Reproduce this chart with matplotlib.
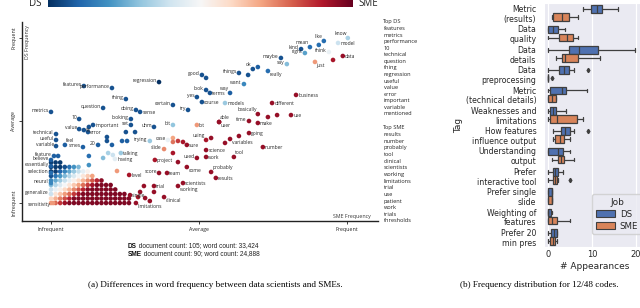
import numpy as np
import matplotlib.pyplot as plt
import seaborn as sns
from matplotlib.patches import Patch

# ---------------- panel (a): word frequency, DS vs SME ----------------
# frequencies are rank scaled: 0 = infrequent, 0.5 = average, 1 = frequent
# lean: 0 = used mostly by data scientists, 1 = used mostly by SMEs
words = ["regression", "features", "performance", "thing", "question", "metrics",
         "doing", "sense", "10", "looking", "value", "%", "important", "set", "uhm",
         "bit", "lot", "error", "technical", "useful", "variable", "feel", "smes", "20",
         "trying", "case", "talking", "having", "level", "single", "limitations",
         "slide", "project", "score", "team", "trial", "clinical", "working",
         "scientists", "come", "used", "work", "science", "sure", "using", "variables",
         "number", "tool", "probably", "results", "going", "able", "user", "time",
         "basically", "make", "different", "use", "business", "certain", "try", "yes",
         "course", "models", "look", "terms", "good", "way", "want", "things", "ok",
         "maybe", "say", "really", "right", "kind", "mean", "like", "know", "model",
         "think", "data", "just", "sensitivity", "generalize", "neural", "selection",
         "essentially", "believe", "feature"]
sme_freq = [.365, .111, .206, .253, .176, .000, .287, .301, .095, .270, .095, .111, .142, .270, .348,
            .412, .493, .125, .017, .017, .017, .047, .108, .159, .334, .395, .236, .216, .264, .267,
            .287, .382, .351, .365, .392, .348, .382, .429, .446, .459, .493, .524, .524, .459, .524,
            .605, .716, .618, .541, .557, .669, .568, .568, .669, .699, .699, .747, .811, .828, .412,
            .463, .493, .510, .588, .524, .537, .510, .605, .652, .635, .682, .777, .797, .733, .858,
            .845, .875, .922, 1.003, .970, .939, .986, .892, .007, .000, .000, .000, .000, .000, .010]
ds_freq = [.733, .709, .697, .630, .576, .552, .564, .552, .509, .509, .448, .442, .473, .473, .461,
           .473, .473, .430, .418, .382, .345, .352, .339, .352, .376, .382, .303, .267, .170, .048,
           .000, .327, .261, .182, .182, .103, .036, .103, .121, .218, .273, .279, .321, .352, .382,
           .388, .339, .279, .188, .152, .424, .491, .491, .497, .539, .485, .606, .533, .655, .594,
           .564, .642, .612, .606, .685, .667, .776, .667, .721, .788, .812, .879, .842, .800, .909,
           .933, .945, .982, 1.000, .970, .915, .891, .855, .000, .055, .121, .182, .224, .261, .285]
lean = [.00, .10, .10, .10, .10, .10, .10, .10, .10, .10, .10, .10, .10, .10, .10,
        .32, .70, .10, .10, .10, .10, .12, .12, .12, .33, .47, .33, .45, .88, .90,
        .90, .72, .88, .90, .90, .90, .90, .90, .90, .90, .90, .90, .90, .90, .88,
        .90, .90, .90, .90, .90, .90, .90, .90, .90, .90, .90, .90, .90, .90, .10,
        .10, .10, .10, .33, .10, .10, .10, .12, .20, .10, .10, .10, .30, .15, .25,
        .10, .15, .15, .35, .40, .47, .90, .70, .70, .40, .20, .15, .12, .12, .12]

# unlabelled words
other_sme = [.128, .189, .189, .206, .240, .257, .253, .284, .024, .128, .128, .176, .193, .209, .223,
             .412, .412, .429, .446, .541, .588, .635, .733, .764, .524, .666, .699, .905, .953,
             .412, .429, .348, .314, .301, .318, .334, .294]
other_ds = [.461, .400, .376, .352, .376, .376, .430, .430, .285, .285, .230, .273, .303, .291, .194,
            .394, .370, .376, .370, .394, .364, .406, .521, .533, .758, .776, .824, .958, .867,
            .303, .248, .067, .103, .067, .030, .012, .036]
other_lean = [.10, .10, .10, .12, .12, .12, .10, .10, .12, .15, .22, .30, .35, .40, .70,
              .68, .75, .82, .88, .90, .90, .90, .90, .90, .10, .10, .12, .15, .88,
              .88, .90, .90, .90, .90, .90, .90, .88]

# rare words pile up on a lattice of low counts: rows filled per SME-count column
lattice_rows = [10, 10, 10, 9, 9, 9, 9, 8, 8, 7, 6, 6, 5, 5, 4, 3, 3, 2]

top_ds = ["features", "metrics", "performance", "10", "technical", "question", "thing",
          "regression", "useful", "value", "error", "important", "variable", "mentioned"]
top_sme = ["results", "number", "probably", "tool", "clinical", "scientists", "working",
           "limitations", "trial", "use", "patient", "work", "trials", "thresholds"]

# ---------------- panel (b): code frequency boxplots ----------------
tags = ["Metric\n(results)", "Data\nquality", "Data\ndetails", "Data\npreprocessing",
        "Metric\n(technical details)", "Weaknesses and\nlimitations", "How features\ninfluence output",
        "Understanding\noutput", "Prefer\ninteractive tool", "Prefer single\nslide",
        "Weighting of\nfeatures", "Prefer 20\nmin pres"]
# (whisker low, q1, median, q3, whisker high)
ds_box = [(7.9, 9.8, 11.1, 12.3, 15.9), (0, 0, 1.1, 2.3, 3.9), (0, 4.8, 7.0, 11.4, 19.7),
          (0, 2.4, 3.6, 4.8, 6.0), (0, 0.5, 3.2, 4.0, 8.9), (0, 0.4, 1.1, 1.9, 4.0),
          (1.1, 3.0, 3.8, 4.9, 6.0), (0, 0, 2.3, 3.4, 4.9), (0, 1.1, 1.7, 2.3, 3.3),
          (0, 0, 1, 1, 1), (0, 0, 0, 0.75, 1), (0, 0.75, 1.4, 2.0, 2.0)]
ds_out = [[], [], [], [9], [], [], [9], [], [], [], [], []]
sme_box = [(1.0, 1.1, 3.1, 4.8, 6.8), (0, 2.4, 4.3, 5.6, 6.8), (1.9, 3.2, 3.8, 6.8, 11.9),
           (0, 0, 0, 0, 0), (0, 0, 0.9, 1.9, 1.9), (0, 0.5, 2.0, 6.6, 7.9),
           (1.1, 1.5, 2.7, 3.7, 4.9), (1.0, 2.2, 3.0, 3.7, 5.8), (0, 1.1, 1.5, 2.0, 2.3),
           (0, 0, 1, 1, 1), (0, 0, 1, 2, 5), (0, 0.4, 1.1, 1.7, 2.0)]
sme_out = [[], [], [], [1], [], [], [], [], [5], [], [], []]

W, H = 640, 308
fig = plt.figure(figsize=(W / 100, H / 100), dpi=100)


def fx(px):
    return px / W


def fy(py):
    return 1 - py / H


LBL = "Open Sans"
cmap = "RdBu_r"
VMIN, VMAX = 0.04, 0.96

ax = fig.add_axes([fx(22), fy(221), (378 - 22) / W, (221 - 22) / H])
ax.set_xlim(-0.098, 1.105)
ax.set_ylim(-0.109, 1.097)
for s in ["top", "right"]:
    ax.spines[s].set_visible(False)
for s in ["left", "bottom"]:
    ax.spines[s].set_linewidth(1.0)
    ax.spines[s].set_color("#222222")
ax.set_xticks([0, 0.5, 1])
ax.set_xticklabels(["Infrequent", "Average", "Frequent"], family=LBL, fontsize=3.8, color="#333333")
ax.set_yticks([0, 0.5, 1])
ax.set_yticklabels(["Infrequent", "Average", "Frequent"], family=LBL, fontsize=3.8, color="#333333",
                   rotation=90, va="center")
ax.tick_params(length=2, width=0.6, pad=2, colors="#222222")

# lattice of rare words
lx, ly, lc = [], [], []
for i, n in enumerate(lattice_rows):
    for j in range(n):
        lx.append(i * 0.0155)
        ly.append(j * 0.0273)
        lc.append(np.clip(0.7 + 0.065 * i - 0.1 * j, 0.06, 0.93))
ax.scatter(lx, ly, c=lc, cmap=cmap, vmin=VMIN, vmax=VMAX, s=11, linewidths=0, zorder=2)
ax.scatter(other_sme, other_ds, c=other_lean, cmap=cmap, vmin=VMIN, vmax=VMAX, s=11, linewidths=0,
           zorder=3)
ax.scatter(sme_freq, ds_freq, c=lean, cmap=cmap, vmin=VMIN, vmax=VMAX, s=11, linewidths=0, zorder=4)

place = {"sense": "r", "%": "r", "important": "r", "lot": "r", "error": "r", "feel": "ur",
         "talking": "r", "having": "r", "level": "r", "single": "r", "limitations": "dr",
         "project": "r", "team": "r", "trial": "r", "clinical": "dr", "working": "dr",
         "scientists": "r", "come": "dr", "work": "r", "science": "r", "sure": "r", "using": "ul",
         "variables": "dr", "number": "r", "tool": "ur", "probably": "ur", "results": "r",
         "going": "r", "able": "ur", "user": "dr", "make": "r", "different": "r", "use": "r",
         "business": "r", "course": "r", "models": "r", "terms": "r", "way": "ul", "ok": "ul",
         "really": "dr", "mean": "ul", "like": "ul", "know": "ul", "model": "r", "data": "r",
         "just": "dr", "basically": "ul", "sensitivity": "dl"}
offs = {"l": (-1.6, 1.2, "right"), "r": (1.6, -0.5, "left"), "ul": (-0.8, 3.4, "right"),
        "ur": (0.8, 3.4, "left"), "dr": (1.2, -2.8, "left"), "dl": (-1.4, -1.0, "right")}
for w, x, y in zip(words, sme_freq, ds_freq):
    dx, dy, ha = offs[place.get(w, "l")]
    ax.annotate(w, (x, y), xytext=(dx, dy), textcoords="offset points", ha=ha, va="center",
                family=LBL, fontsize=3.6, color="#2a2a2a", zorder=5, annotation_clip=False)

ax.text(1.017, -0.079, "SME Frequency", ha="center", va="center", family=LBL, fontsize=3.8,
        color="#333333")
ax.text(-0.081, 0.975, "DS Frequency", ha="center", va="center", rotation=90, family=LBL,
        fontsize=3.8, color="#333333")

# colour scale on top
cax = fig.add_axes([fx(48), fy(7), (353 - 48) / W, 7 / H])
cax.imshow(np.linspace(0, 1, 256)[None, :], aspect="auto", cmap=cmap)
cax.axis("off")
fig.text(fx(35), fy(4), "DS", ha="center", va="center", family=LBL, fontsize=7, color="#222222")
fig.text(fx(368), fy(4), "SME", ha="center", va="center", family=LBL, fontsize=7, color="#222222")

# top term lists
fig.text(fx(382), fy(22), "Top DS", ha="left", va="center", family=LBL, fontsize=4.1, color="#222222")
for k, w in enumerate(top_ds):
    fig.text(fx(383.5), fy(22 + 6.57 * (k + 1)), w, ha="left", va="center", family=LBL,
             fontsize=4.1, color="#222222")
fig.text(fx(382), fy(128), "Top SME", ha="left", va="center", family=LBL, fontsize=4.1, color="#222222")
for k, w in enumerate(top_sme):
    fig.text(fx(383.5), fy(128 + 6.64 * (k + 1)), w, ha="left", va="center", family=LBL,
             fontsize=4.1, color="#222222")

# document counts
fig.canvas.draw()
for who, rest, yy in [("DS", " document count: 105; word count: 33,424", 246),
                      ("SME", " document count: 90; word count: 24,888", 254)]:
    t = fig.text(fx(128), fy(yy), who, ha="left", va="center", family="Liberation Sans",
                 fontsize=4.7, weight="bold", color="#111111")
    bb = t.get_window_extent(renderer=fig.canvas.get_renderer())
    fig.text(bb.x1 / W, fy(yy), rest, ha="left", va="center", family="Liberation Sans",
             fontsize=4.7, color="#222222")

fig.text(fx(215), fy(285), "(a) Differences in word frequency between data scientists and SMEs.",
         ha="center", va="center", family="Liberation Serif", fontsize=6.6)
fig.text(fx(539), fy(285), "(b) Frequency distribution for 12/48 codes.",
         ha="center", va="center", family="Liberation Serif", fontsize=6.6)

# ---------------- panel (b) ----------------
colors = ["#4f71b0", "#d8845a"]
edge = "#3f3f3f"
with sns.axes_style("darkgrid"):
    bx = fig.add_axes([fx(544), fy(247), (646 - 544) / W, (247 - 3) / H])
    for boxes, outs, shift, col in [(ds_box, ds_out, -0.2, colors[0]), (sme_box, sme_out, 0.2, colors[1])]:
        stats = [dict(whislo=b[0], q1=b[1], med=b[2], q3=b[3], whishi=b[4], fliers=o)
                 for b, o in zip(boxes, outs)]
        bx.bxp(stats, positions=np.arange(len(tags)) + shift, widths=0.38, capwidths=0.19,
               orientation="horizontal", patch_artist=True, manage_ticks=False,
               boxprops=dict(facecolor=col, edgecolor=edge, linewidth=0.9),
               medianprops=dict(color=edge, linewidth=0.9),
               whiskerprops=dict(color=edge, linewidth=0.9),
               capprops=dict(color=edge, linewidth=0.9),
               flierprops=dict(marker="d", markerfacecolor=edge, markeredgecolor=edge, markersize=2.2))
    bx.set_ylim(len(tags) - 0.5, -0.5)
    bx.set_xlim(-0.91, 22.27)
    bx.set_yticks(range(len(tags)))
    bx.set_yticklabels(tags, fontsize=5.6, linespacing=1.1, color="#262626")
    bx.set_xticks([0, 10, 20])
    bx.set_xticklabels(["0", "10", "20"], fontsize=6, color="#262626")
    bx.tick_params(axis="y", length=0, pad=5.5)
    bx.tick_params(axis="x", length=0, pad=2)
    bx.yaxis.grid(False)
    bx.xaxis.grid(True, color="white", linewidth=0.9)
    bx.set_axisbelow(True)
    bx.set_xlabel("# Appearances", fontsize=6.5, color="#262626", labelpad=2)
    bx.set_ylabel("Tag", fontsize=6.5, color="#262626", labelpad=2)
    handles = [Patch(facecolor=colors[0], edgecolor=edge, linewidth=0.8, label="DS"),
               Patch(facecolor=colors[1], edgecolor=edge, linewidth=0.8, label="SME")]
    bx.legend(handles=handles, title="Job", loc="lower right", bbox_to_anchor=(1.0, 0.035),
              fontsize=6.2, title_fontsize=6.5, handlelength=2.2, handleheight=0.9,
              labelspacing=0.35, borderpad=0.4, handletextpad=0.6)

fig.savefig("out.png", dpi=100)
